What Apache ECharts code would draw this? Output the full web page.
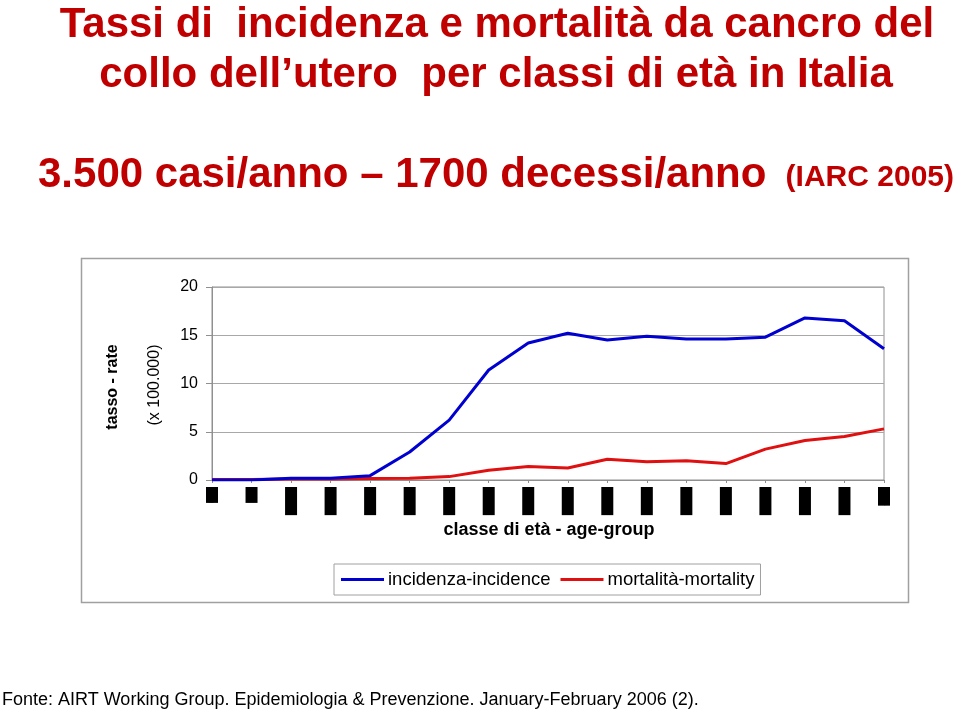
<!DOCTYPE html>
<html><head><meta charset="utf-8">
<script src="https://cdn.jsdelivr.net/npm/echarts@6/dist/echarts.min.js"></script>
<style>html,body{margin:0;padding:0;background:#fff}#c{width:960px;height:713px}</style>
</head><body><div id="c"></div>
<script>
const categories = ['0-4','5-9','10-14','15-19','20-24','25-29','30-34','35-39','40-44','45-49','50-54','55-59','60-64','65-69','70-74','75-79','80-84','85+'];
const incidence = [0.0, 0.0, 0.17, 0.17, 0.45, 2.9, 6.2, 11.4, 14.2, 15.2, 14.5, 14.9, 14.6, 14.6, 14.8, 16.8, 16.5, 13.6];
const mortality = [0.05, 0.05, 0.1, 0.1, 0.15, 0.17, 0.35, 1.0, 1.4, 1.25, 2.15, 1.9, 2.0, 1.7, 3.2, 4.1, 4.5, 5.3];
const yTicks = [0, 5, 10, 15, 20];

const FONT = '"Liberation Sans", Arial, sans-serif';
const RED = '#c00000';
const chart = echarts.init(document.getElementById('c'));
chart.setOption({
  animation: false,
  backgroundColor: '#fff',
  textStyle: { fontFamily: FONT },
  graphic: [
    { type: 'rect', z: -10, shape: { x: 81.5, y: 258.5, width: 827, height: 344 }, style: { fill: '#fff', stroke: '#a0a0a0', lineWidth: 1.5 } },
    { type: 'text', x: 497, y: 25, style: { text: 'Tassi di  incidenza e mortalità da cancro del', font: 'bold 42px ' + FONT, fill: RED, align: 'center', verticalAlign: 'middle' } },
    { type: 'text', x: 496, y: 75, style: { text: 'collo dell\u2019utero  per classi di età in Italia', font: 'bold 42px ' + FONT, fill: RED, align: 'center', verticalAlign: 'middle' } },
    { type: 'text', x: 38, y: 175, style: { text: '3.500 casi/anno \u2013 1700 decessi/anno', font: 'bold 42px ' + FONT, fill: RED, align: 'left', verticalAlign: 'middle' } },
    { type: 'text', x: 954, y: 178, style: { text: '(IARC 2005)', font: 'bold 30px ' + FONT, fill: RED, align: 'right', verticalAlign: 'middle' } },
    { type: 'text', x: 113, y: 387, rotation: Math.PI / 2, style: { text: 'tasso - rate', font: 'bold 16px ' + FONT, fill: '#000', align: 'center', verticalAlign: 'middle' } },
    { type: 'text', x: 155, y: 385, rotation: Math.PI / 2, style: { text: '(x 100.000)', font: '16px ' + FONT, fill: '#000', align: 'center', verticalAlign: 'middle' } },
    { type: 'text', x: 549, y: 530, style: { text: 'classe di età - age-group', font: 'bold 18px ' + FONT, fill: '#000', align: 'center', verticalAlign: 'middle' } },
    { type: 'text', x: 2, y: 700, style: { text: 'Fonte: AIRT Working Group. Epidemiologia & Prevenzione. January-February 2006 (2).', font: '18px ' + FONT, fill: '#000', align: 'left', verticalAlign: 'middle' } }
  ],
  grid: { left: 212, right: 76, top: 287, height: 193, show: true, borderColor: '#909090', borderWidth: 1, backgroundColor: 'transparent' },
  legend: {
    left: 334, top: 564,
    padding: [6, 6, 6, 7],
    borderColor: '#a0a0a0', borderWidth: 1,
    icon: 'rect', itemWidth: 43, itemHeight: 3, itemGap: 10,
    textStyle: { fontSize: 18.5, color: '#000', fontFamily: FONT, padding: [0, 0, 0, -1] },
    data: ['incidenza-incidence', 'mortalità-mortality']
  },
  xAxis: {
    type: 'category', data: categories, boundaryGap: false,
    axisLine: { lineStyle: { color: '#909090' } },
    axisTick: { show: true, alignWithLabel: true, length: 3, lineStyle: { color: '#909090' } },
    axisLabel: { rotate: 90, interval: 0, margin: 7, fontSize: 11, lineHeight: 12, color: '#000', backgroundColor: '#000', fontFamily: FONT }
  },
  yAxis: {
    type: 'value', min: yTicks[0], max: yTicks[yTicks.length - 1], interval: 5,
    axisLine: { show: true, lineStyle: { color: '#909090' } },
    axisTick: { show: true, length: 6, lineStyle: { color: '#909090' } },
    axisLabel: { fontSize: 16, color: '#000', margin: 14, fontFamily: FONT },
    splitLine: { lineStyle: { color: '#a8a8a8', width: 1 } }
  },
  series: [
    { name: 'incidenza-incidence', type: 'line', data: incidence, symbol: 'none', lineStyle: { color: '#0000d0', width: 3 }, itemStyle: { color: '#0000d0' }, z: 3 },
    { name: 'mortalità-mortality', type: 'line', data: mortality, symbol: 'none', lineStyle: { color: '#e01010', width: 3 }, itemStyle: { color: '#e01010' }, z: 2 }
  ]
});
</script></body></html>
